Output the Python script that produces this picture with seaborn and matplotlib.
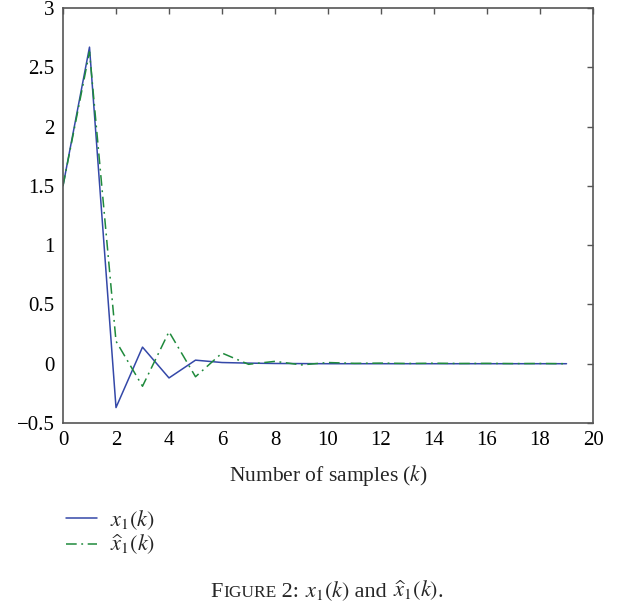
import numpy as np
import pandas as pd
import matplotlib
matplotlib.use("Agg")
import matplotlib.pyplot as plt
import seaborn as sns
from matplotlib.lines import Line2D

k = list(range(20))
x1 = [1.5, 2.67, -0.37, 0.14, -0.12, 0.03, 0.01, 0.005, 0.002, 0.001,
      0.0, 0.0, 0.0, 0.0, 0.0, 0.0, 0.0, 0.0, 0.0, 0.0]
x1_hat = [1.5, 2.63, 0.19, -0.19, 0.27, -0.11, 0.09, -0.005, 0.02, -0.01,
          0.01, 0.003, 0.005, 0.002, 0.004, 0.002, 0.003, 0.001, 0.002, 0.0]
series_labels = [r'$x_1(k)$', r'$\widehat{x}_1(k)$']
xticks = list(range(0, 21, 2))
yticks = [-0.5, 0, 0.5, 1, 1.5, 2, 2.5, 3]
ytick_labels = ['\u22120.5', '0', '0.5', '1', '1.5', '2', '2.5', '3']

sns.set_style("white")
plt.rcParams['font.family'] = ['Liberation Serif', 'DejaVu Serif']
plt.rcParams['mathtext.fontset'] = 'stix'

blue = '#3448a8'
green = '#1f8a3c'
dd = (7, 3, 1.2, 3)

df = pd.DataFrame({
    'k': k * 2,
    'value': x1 + x1_hat,
    'series': [series_labels[0]] * len(k) + [series_labels[1]] * len(k),
})

fig = plt.figure(figsize=(6.19, 6.09), dpi=100)
ax = fig.add_axes([63 / 619, 1 - 423 / 609, 530 / 619, 415 / 609])

sns.lineplot(data=df, x='k', y='value', hue='series', style='series',
             palette=[blue, green], dashes=['', dd],
             linewidth=1.1, ax=ax, legend=False)

ax.set_xlim(0, 20)
ax.set_ylim(-0.5, 3)
ax.set_xticks(xticks)
ax.set_yticks(yticks)
ax.set_xticklabels([str(t) for t in xticks])
ax.set_yticklabels(ytick_labels)
ax.tick_params(direction='in', length=4, width=1, color='#555555',
               top=True, right=True, labelsize=15, pad=6, labelcolor='black')
for sp in ax.spines.values():
    sp.set_visible(True)
    sp.set_color('#555555')
    sp.set_linewidth(1.2)
ax.set_ylabel('')
ax.set_xlabel(r'Number of samples ($k$)', fontsize=15.5, labelpad=9)

handles = [Line2D([], [], color=blue, lw=1.1),
           Line2D([], [], color=green, lw=1.1, dashes=dd)]
fig.legend(handles, series_labels, loc='upper left',
           bbox_to_anchor=(46 / 619, 1 - 488 / 609), frameon=False,
           fontsize=16, handlelength=1.4, handletextpad=0.6, labelspacing=0.05)

# caption with simulated small caps
fig.canvas.draw()
renderer = fig.canvas.get_renderer()
pieces = [('F', 16), ('IGURE', 12.5), (' 2: ', 16), (r'$x_1(k)$', 16),
          (' and ', 16), (r'$\widehat{x}_1(k)$', 16), ('.', 16)]
texts = []
ypos = 1 - 597 / 609
for s, fs in pieces:
    texts.append(fig.text(0, ypos, s, fontsize=fs, va='baseline', ha='left'))
widths = [t.get_window_extent(renderer).width for t in texts]
total = sum(widths)
cur = 327 - total / 2
for t, w in zip(texts, widths):
    t.set_x(cur / 619)
    cur += w

fig.savefig('out.png', dpi=100)
